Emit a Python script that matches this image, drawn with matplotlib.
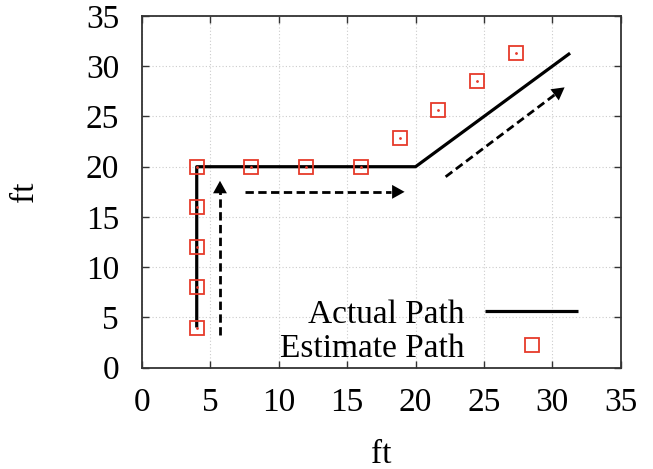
import matplotlib
matplotlib.use("Agg")
import matplotlib.pyplot as plt

# Data
actual_x = [4, 4, 20, 31.3]
actual_y = [4, 20, 20, 31.3]
est_x = [4, 4, 4, 4, 4, 8, 12, 16, 18.83, 21.66, 24.49, 27.31]
est_y = [4, 8, 12, 16, 20, 20, 20, 20, 22.83, 25.66, 28.49, 31.31]
ticks = [0, 5, 10, 15, 20, 25, 30, 35]
# direction arrows (start, tip)
arrows = [((5.7, 3.25), (5.7, 18.6)),
          ((7.5, 17.5), (19.2, 17.5)),
          ((22.2, 19.0), (30.9, 27.9))]

plt.rcParams['font.family'] = ['Liberation Serif', 'DejaVu Serif']
plt.rcParams['mathtext.fontset'] = 'stix'

FS = 24
fig = plt.figure(figsize=(6.53, 4.69), dpi=100)
ax = fig.add_axes([0.2175, 0.216, 0.733, 0.7499])

red = '#e63a2a'
ax.plot(actual_x, actual_y, color='black', lw=2.3, label='Actual Path', zorder=3,
        solid_capstyle='butt')
ax.plot(est_x, est_y, linestyle='none', marker='s', markersize=9.4, markerfacecolor='none',
        markeredgecolor=red, markeredgewidth=1.3, label='Estimate Path', zorder=4)
ax.plot(est_x, est_y, linestyle='none', marker='o', markersize=1.0, color=red, zorder=4)

for (sx, sy), (tx, ty) in arrows:
    dx, dy = tx - sx, ty - sy
    L = (dx ** 2 + dy ** 2) ** 0.5
    f = 1 - 1.0 / L
    ax.plot([sx, sx + dx * f], [sy, sy + dy * f], color='black', lw=2.0,
            linestyle=(0, (3, 1.6)), zorder=3)
    ax.annotate('', xy=(tx, ty), xytext=(sx + dx * (1 - 1.5 / L), sy + dy * (1 - 1.5 / L)),
                arrowprops=dict(arrowstyle='-|>,head_length=0.9,head_width=0.5',
                                color='black', lw=0, shrinkA=0, shrinkB=0), zorder=3)

ax.set_xlim(0, 35)
ax.set_ylim(0, 35)
ax.set_xticks(ticks)
ax.set_yticks(ticks)
ax.tick_params(direction='in', length=5, width=1, top=True, right=True,
               labelsize=FS, colors='#333333', labelcolor='black')
ax.tick_params(axis='x', pad=14.5)
ax.tick_params(axis='y', pad=16.5)
ax.grid(True, color='#cccccc', linestyle=(0, (1, 2)), lw=0.8)
for s in ax.spines.values():
    s.set_color('#333333')
    s.set_linewidth(1.3)

ax.set_xlabel('ft', fontsize=FS, labelpad=15)
ax.set_ylabel('ft', fontsize=FS, labelpad=33)

leg = ax.legend(loc='lower right', bbox_to_anchor=(0.96, -0.055), frameon=False,
                markerfirst=False, fontsize=FS, handlelength=2.8, handletextpad=0.62,
                labelspacing=0.1, borderpad=0.2)

fig.savefig('out.png', dpi=100)
